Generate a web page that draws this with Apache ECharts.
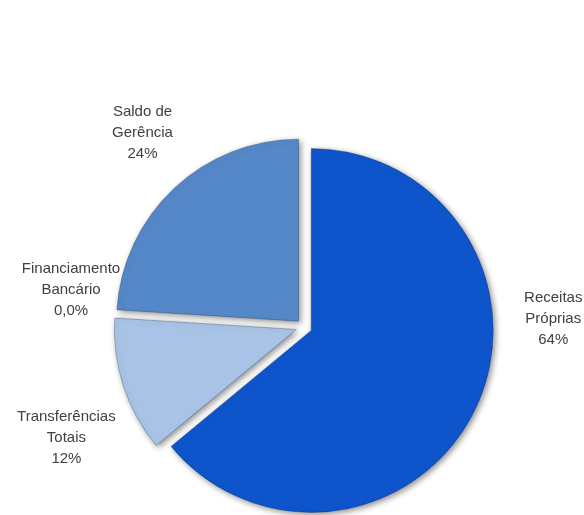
<!DOCTYPE html>
<html>
<head>
<meta charset="utf-8">
<script src="https://cdn.jsdelivr.net/npm/echarts@6/dist/echarts.min.js"></script>
<style>html,body{margin:0;padding:0;background:#fff;}#c{width:584px;height:515px;}</style>
</head>
<body>
<div id="c"></div>
<script>
const categories = ['Receitas\nPróprias', 'Transferências\nTotais', 'Financiamento\nBancário', 'Saldo de\nGerência'];
const values = [64, 12, 0, 24];
const pctLabels = ['64%', '12%', '0,0%', '24%'];

const colors = ['#0e55cc', '#a8c3e5', '#6f97cf', '#5588c8'];
// label centres before the selection offset is applied
const labelPos = [[546, 315], [74, 435], [79, 290], [148, 139]];

const chart = echarts.init(document.getElementById('c'), null, {renderer: 'canvas'});
chart.setOption({
  backgroundColor: '#ffffff',
  animation: false,
  series: [{
    type: 'pie',
    center: [304, 327],
    radius: 182,
    startAngle: 90,
    clockwise: true,
    selectedMode: 'multiple',
    selectedOffset: 8,
    avoidLabelOverlap: false,
    emphasis: {disabled: true},
    label: {
      show: true,
      position: 'outside',
      overflow: 'none',
      fontFamily: 'Liberation Sans, Arial, sans-serif',
      fontSize: 15,
      lineHeight: 21,
      color: '#404040',
      formatter: p => categories[p.dataIndex] + '\n' + pctLabels[p.dataIndex]
    },
    labelLine: {show: false},
    labelLayout: p => {
      const r = p.labelRect;
      const ax = p.align === 'left' ? r.x : (p.align === 'right' ? r.x + r.width : r.x + r.width / 2);
      const ay = p.verticalAlign === 'top' ? r.y : (p.verticalAlign === 'bottom' ? r.y + r.height : r.y + r.height / 2);
      return {
        dx: labelPos[p.dataIndex][0] - ax,
        dy: labelPos[p.dataIndex][1] - ay,
        align: 'center',
        verticalAlign: 'middle'
      };
    },
    itemStyle: {
      borderColor: 'rgba(0,20,60,0.25)',
      borderWidth: 1,
      shadowBlur: 6,
      shadowOffsetX: 2,
      shadowOffsetY: 2,
      shadowColor: 'rgba(0,0,0,0.45)'
    },
    data: categories.map((c, i) => ({
      name: c,
      value: values[i],
      selected: true,
      itemStyle: values[i] === 0
        ? {color: colors[i], borderWidth: 0, shadowBlur: 0, shadowColor: 'transparent'}
        : {color: colors[i]}
    }))
  }]
});
</script>
</body>
</html>
